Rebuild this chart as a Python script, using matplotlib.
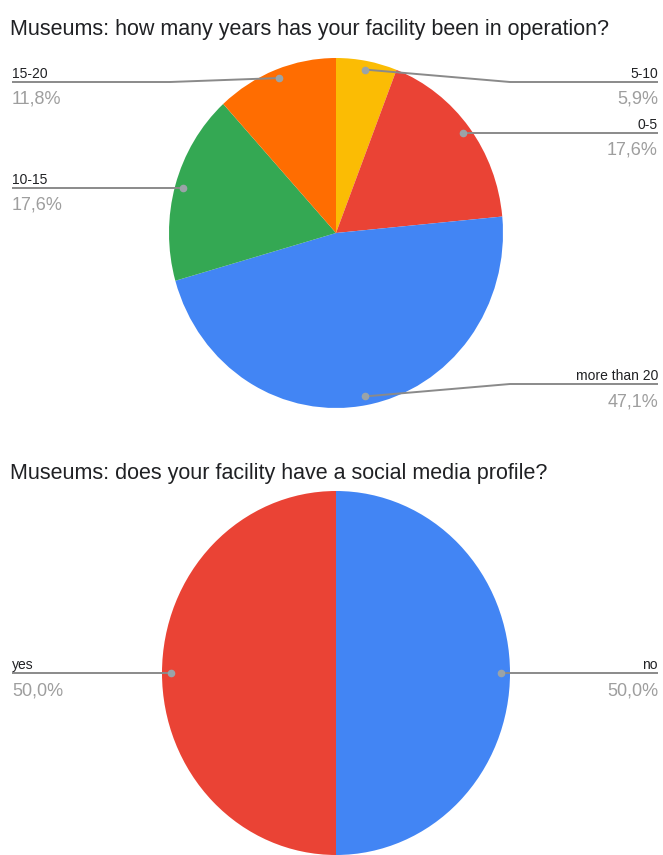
import numpy as np
import matplotlib
matplotlib.use("Agg")
import matplotlib.pyplot as plt

plt.rcParams['font.family'] = ['Liberation Sans', 'DejaVu Sans']

# operating years
years_labels = ["5-10", "0-5", "more than 20", "10-15", "15-20"]
years_pct = [5.9, 17.6, 47.1, 17.6, 11.8]
years_colors = ["#FBBC04", "#EA4335", "#4285F4", "#34A853", "#FF6D01"]

# social media profile
social_labels = ["no", "yes"]
social_pct = [50.0, 50.0]
social_colors = ["#4285F4", "#EA4335"]

W, H = 663, 855
fig = plt.figure(figsize=(W / 100, H / 100), dpi=100)
fig.patch.set_facecolor("white")

LINE_C = "#8a8a8a"
DOT_C = "#9aa3a8"
PCT_C = "#9e9e9e"
TXT_C = "#202124"


def pie_axes(cx, cy, rx, ry):
    # axes placed in pixel coords (origin top-left)
    return fig.add_axes([(cx - rx) / W, 1 - (cy + ry) / H, 2 * rx / W, 2 * ry / H])


def draw_pie(ax, vals, colors):
    ax.pie(vals, colors=colors, startangle=90, counterclock=False,
           wedgeprops=dict(linewidth=0))
    ax.set_aspect("auto")
    ax.set_xlim(-1, 1)
    ax.set_ylim(-1, 1)


def anchors(vals, cx, cy, rx, ry, frac=0.95):
    # dot position inside each wedge, pixel coords
    vals = np.asarray(vals, float)
    cum = np.cumsum(vals) - vals / 2
    ang = np.deg2rad(cum / vals.sum() * 360)
    return [(cx + frac * rx * np.sin(a), cy - frac * ry * np.cos(a)) for a in ang]


def fmt(v):
    return f"{v:.1f}%".replace(".", ",")


cx1, cy1, rx1, ry1 = 336, 233, 167, 175
cx2, cy2, rx2, ry2 = 336, 673, 174, 182

ax1 = pie_axes(cx1, cy1, rx1, ry1)
draw_pie(ax1, years_pct, years_colors)
ax2 = pie_axes(cx2, cy2, rx2, ry2)
draw_pie(ax2, social_pct, social_colors)

# overlay on top for titles, leader lines and labels, pixel coordinates
ov = fig.add_axes([0, 0, 1, 1])
ov.set_zorder(10)
ov.set_xlim(0, W)
ov.set_ylim(H, 0)
ov.axis("off")


def label(dot, side, line_y, bend_x, name, pct):
    x0 = 12 if side == "left" else 658
    dx, dy = dot
    if bend_x is None:
        xs, ys = [x0, dx], [line_y, dy]
    else:
        xs, ys = [x0, bend_x, dx], [line_y, line_y, dy]
    ov.plot(xs, ys, color=LINE_C, lw=1.4, zorder=5, solid_capstyle="butt")
    ov.plot([dx], [dy], "o", ms=4.5, color=DOT_C, zorder=6)
    ha = "left" if side == "left" else "right"
    ov.text(x0, line_y - 4, name, ha=ha, va="baseline", fontsize=10, color=TXT_C, zorder=7)
    ov.text(x0, line_y + 22, pct, ha=ha, va="baseline", fontsize=13, color=PCT_C, zorder=7)


# top chart
ov.text(10, 35, "Museums: how many years has your facility been in operation?",
        fontsize=15.5, color=TXT_C, va="baseline")
d = anchors(years_pct, cx1, cy1, rx1, ry1)
label(d[0], "right", 82, 510, years_labels[0], fmt(years_pct[0]))
label(d[1], "right", d[1][1], None, years_labels[1], fmt(years_pct[1]))
label(d[2], "right", 384, 510, years_labels[2], fmt(years_pct[2]))
label(d[3], "left", d[3][1], None, years_labels[3], fmt(years_pct[3]))
label(d[4], "left", 82, 170, years_labels[4], fmt(years_pct[4]))

# bottom chart
ov.text(10, 479, "Museums: does your facility have a social media profile?",
        fontsize=15.5, color=TXT_C, va="baseline")
d = anchors(social_pct, cx2, cy2, rx2, ry2)
label(d[0], "right", d[0][1], None, social_labels[0], fmt(social_pct[0]))
label(d[1], "left", d[1][1], None, social_labels[1], fmt(social_pct[1]))

fig.savefig("out.png", dpi=100, facecolor="white")
